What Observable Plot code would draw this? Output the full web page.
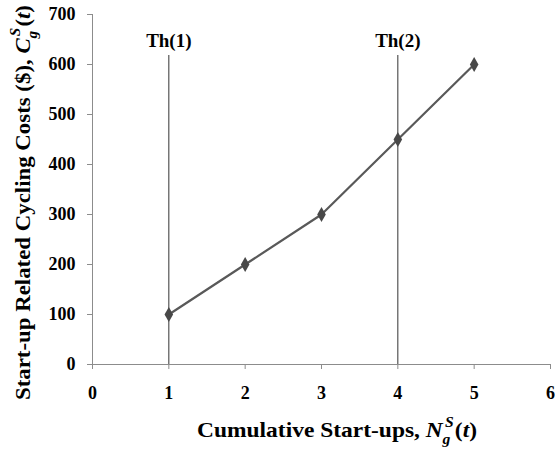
<!DOCTYPE html>
<html>
<head>
<meta charset="utf-8">
<script src="https://cdn.jsdelivr.net/npm/d3@7"></script>
<script src="https://cdn.jsdelivr.net/npm/@observablehq/plot@0.6"></script>
<style>
  html, body { margin: 0; padding: 0; background: #fff; }
  #chart svg { display: block; }
</style>
</head>
<body>
<div id="chart"></div>
<script>
const startups = [1, 2, 3, 4, 5];
const costs = [100, 200, 300, 450, 600];
const thresholds = [1, 4];
const thresholdLabels = ["Th(1)", "Th(2)"];
const thresholdTop = 618;
const thresholdLabelY = 648;
const xTicks = [0, 1, 2, 3, 4, 5, 6];
const yTicks = [0, 100, 200, 300, 400, 500, 600, 700];

const data = startups.map((x, i) => ({x, y: costs[i]}));
const th = thresholds.map((x, i) => ({x, label: thresholdLabels[i]}));

const font = "'Liberation Serif', 'Times New Roman', serif";
const axisGray = "#8c8c8c";

const plot = Plot.plot({
  width: 555,
  height: 452,
  marginLeft: 92,
  marginRight: 5,
  marginTop: 14,
  marginBottom: 88,
  style: {fontFamily: font, fontSize: "18px", fontWeight: "bold", color: "#000", background: "#fff"},
  x: {domain: [0, 6]},
  y: {domain: [0, 700]},
  marks: [
    Plot.ruleY([0], {stroke: axisGray, strokeWidth: 1}),
    Plot.ruleX([0], {stroke: axisGray, strokeWidth: 1}),
    Plot.axisX(xTicks, {tickSize: 5, tickPadding: 17, stroke: axisGray, fill: "#000", label: null, fontSize: 18, fontWeight: "bold"}),
    Plot.axisY(yTicks, {tickSize: 5, tickPadding: 12, stroke: axisGray, fill: "#000", label: null, fontSize: 18, fontWeight: "bold"}),
    Plot.ruleX(th, {x: "x", y1: 0, y2: thresholdTop, stroke: "#333", strokeWidth: 1}),
    Plot.text(th, {x: "x", y: thresholdLabelY, text: "label", fontSize: 19, fontWeight: "bold", fill: "#000"}),
    Plot.line(data, {x: "x", y: "y", stroke: "#595959", strokeWidth: 2.2}),
    Plot.dot(data, {x: "x", y: "y", symbol: "diamond", r: 4.5, fill: "#484848", stroke: "none"})
  ]
});

document.getElementById("chart").appendChild(plot);

const svg = d3.select(plot);

function title(sel, main, letter) {
  sel.append("tspan").text(main);
  sel.append("tspan").style("font-style", "italic").text(letter);
  sel.append("tspan").attr("dx", 2).attr("dy", -10).style("font-size", "14px").style("font-style", "italic").text("S");
  sel.append("tspan").attr("dx", -10).attr("dy", 17).style("font-size", "14px").style("font-style", "italic").text("g");
  sel.append("tspan").attr("dx", 4).attr("dy", -7).text("(");
  sel.append("tspan").style("font-style", "italic").text("t");
  sel.append("tspan").text(")");
}

// X-axis title
const xt = svg.append("text")
  .attr("x", 197)
  .attr("y", 437)
  .attr("text-anchor", "start")
  .attr("textLength", 280)
  .attr("lengthAdjust", "spacingAndGlyphs")
  .style("font-family", font)
  .style("font-weight", "bold")
  .style("font-size", "21px")
  .attr("fill", "#000");
title(xt, "Cumulative Start-ups, ", "N");

// Y-axis title
const yt = svg.append("text")
  .attr("transform", "translate(30,400) rotate(-90)")
  .attr("text-anchor", "start")
  .attr("textLength", 395)
  .attr("lengthAdjust", "spacingAndGlyphs")
  .style("font-family", font)
  .style("font-weight", "bold")
  .style("font-size", "21px")
  .attr("fill", "#000");
title(yt, "Start-up Related Cycling Costs ($), ", "C");
</script>
</body>
</html>
